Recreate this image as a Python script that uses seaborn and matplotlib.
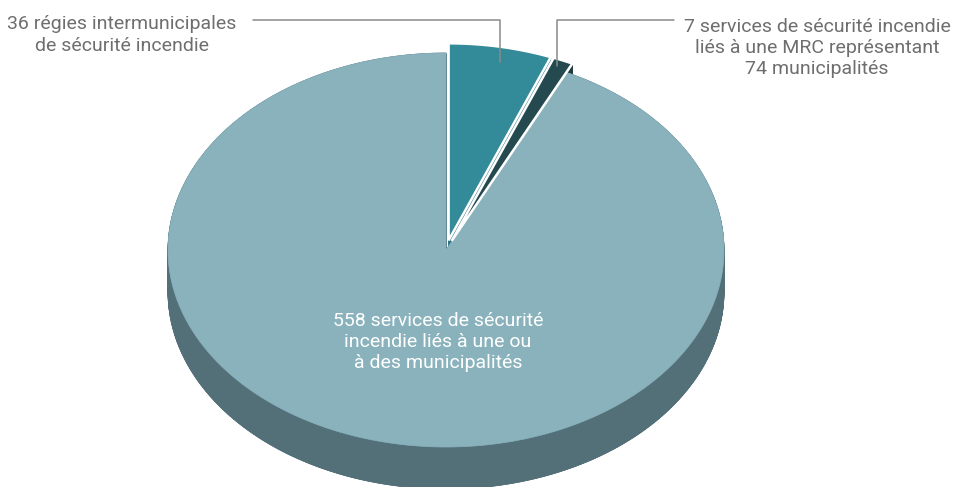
import numpy as np
import matplotlib
matplotlib.use("Agg")
import matplotlib.pyplot as plt
from matplotlib.patches import Polygon
import seaborn as sns

# ---- data (clockwise from 12 o'clock) ----
categories = [
    "36 régies intermunicipales\nde sécurité incendie",
    "7 services de sécurité incendie\nliés à une MRC représentant\n74 municipalités",
    "558 services de sécurité\nincendie liés à une ou\nà des municipalités",
]
values = [36, 7, 558]
explode = [0.05, 0.05, 0.0]
top_colors = ["#338A99", "#244A50", "#89B2BC"]
side_colors = ["#2A7380", "#1C393E", "#537079"]

sns.set_theme(style="white")
plt.rcParams["font.family"] = ["Roboto", "DejaVu Sans"]

W, H = 956, 487
fig = plt.figure(figsize=(W / 100, H / 100), dpi=100)
ax = fig.add_axes([0, 0, 1, 1])
ax.set_xlim(0, W)
ax.set_ylim(H, 0)
ax.axis("off")

# ---- layout of the 3D pie ----
cx, cy = 446, 250
rx, ry = 278, 197
depth = 42

vals = np.array(values, dtype=float)
fr = vals / vals.sum()
starts = np.concatenate([[0], np.cumsum(fr)[:-1]]) * 360
ends = np.cumsum(fr) * 360


def pt(theta_deg, r=1.0, ox=0.0, oy=0.0):
    t = np.radians(theta_deg)
    return cx + ox + r * rx * np.sin(t), cy + oy - r * ry * np.cos(t)


def wedge_poly(a0, a1, ox, oy):
    th = np.linspace(a0, a1, max(4, int((a1 - a0) * 2)))
    xs, ys = pt(th, 1.0, ox, oy)
    pts = [(cx + ox, cy + oy)] + list(zip(xs, ys))
    return np.array(pts)


offsets = []
for a0, a1, e in zip(starts, ends, explode):
    mid = np.radians((a0 + a1) / 2)
    offsets.append((e * rx * np.sin(mid), -e * ry * np.cos(mid)))

# sides (extruded walls of every slice)
for i, (a0, a1) in enumerate(zip(starts, ends)):
    ox, oy = offsets[i]
    top = wedge_poly(a0, a1, ox, oy)
    bot = top + np.array([0, depth])
    ax.add_patch(Polygon(bot, closed=True, facecolor=side_colors[i],
                         edgecolor=side_colors[i], lw=0.5, zorder=1))
    n = len(top)
    for k in range(n):
        p, q = top[k], top[(k + 1) % n]
        quad = np.array([p, q, q + [0, depth], p + [0, depth]])
        ax.add_patch(Polygon(quad, closed=True, facecolor=side_colors[i],
                             edgecolor=side_colors[i], lw=0.5, zorder=1))

# tops: big slice first, then exploded ones with white borders
order = [2, 0, 1]
for i in order:
    ox, oy = offsets[i]
    top = wedge_poly(starts[i], ends[i], ox, oy)
    ec = "white" if explode[i] > 0 else top_colors[i]
    lw = 1.8 if explode[i] > 0 else 0.5
    ax.add_patch(Polygon(top, closed=True, facecolor=top_colors[i],
                         edgecolor=ec, lw=lw, zorder=3 + (i != 2),
                         joinstyle="miter"))

# ---- labels ----
grey = "#6E6E6E"
ax.text(122, 35, categories[0], ha="center", va="center", fontsize=14,
        color=grey, linespacing=1.25, zorder=6)
ax.text(817, 48, categories[1], ha="center", va="center", fontsize=14,
        color=grey, linespacing=1.25, zorder=6)
ax.text(438, 342, categories[2], ha="center", va="center", fontsize=14,
        color="white", linespacing=1.25, zorder=6)

lc = "#8A8A8A"
ax.plot([253, 500, 500], [20, 20, 62], color=lc, lw=1.1, zorder=7)
ax.plot([674, 557, 557], [20, 20, 66], color=lc, lw=1.1, zorder=7)

fig.savefig("out.png", dpi=100, facecolor="white")
